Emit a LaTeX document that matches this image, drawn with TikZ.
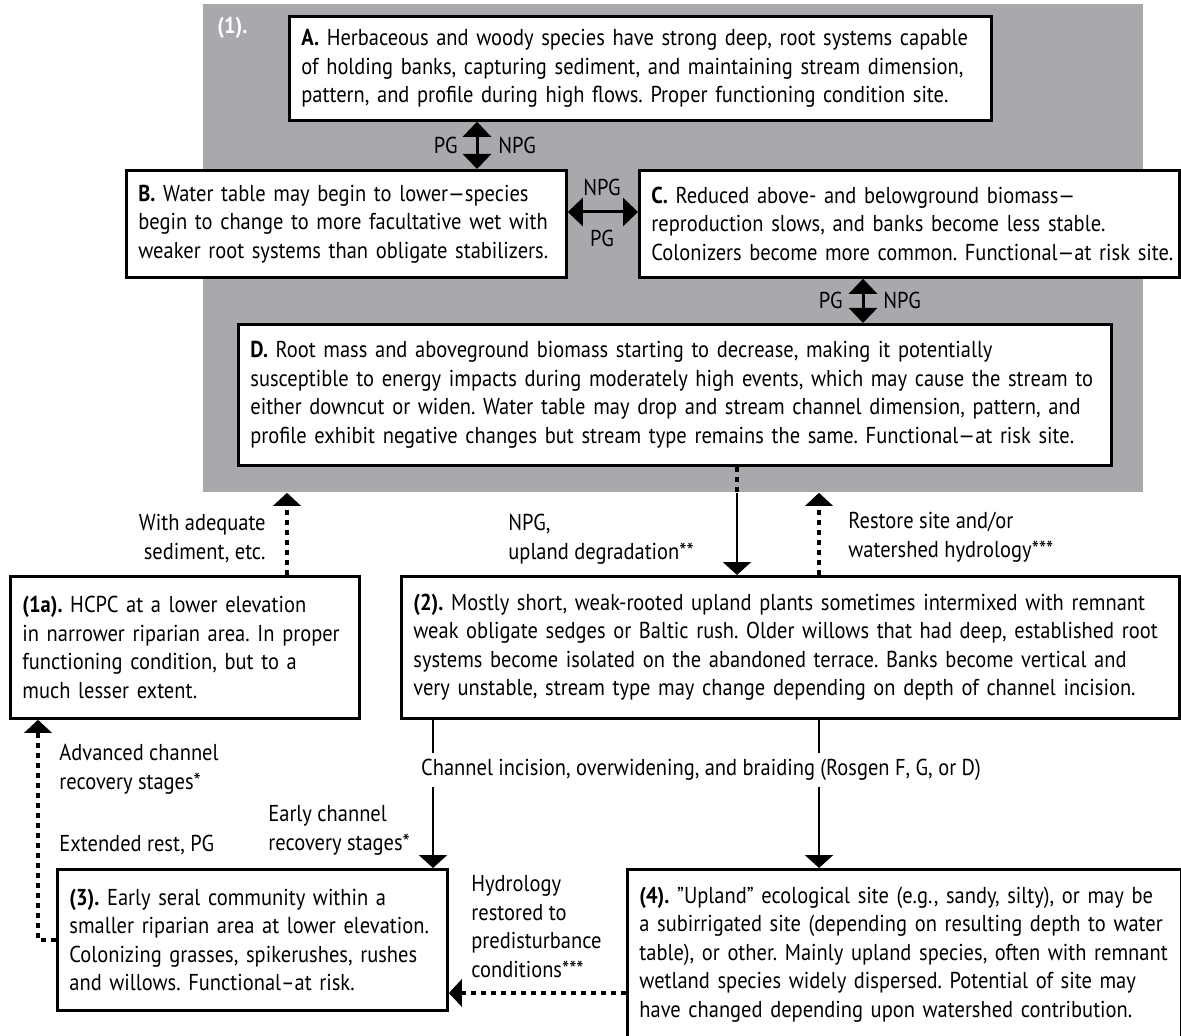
\documentclass[tikz,border=0pt]{standalone}
\usepackage{fontspec}
\setmainfont{PT Sans}[FakeStretch=0.89]
\usetikzlibrary{arrows.meta, positioning}
\definecolor{panelgray}{RGB}{167,169,172}
\newcommand{\stagefont}{\fontsize{11.5pt}{14.25pt}\selectfont}
\frenchspacing
\hyphenpenalty=10000
\exhyphenpenalty=10000

\begin{document}
\begin{tikzpicture}[x=0.5pt, y=-0.5pt,
        stage/.style={rectangle, draw=black, line width=1.4pt, fill=white, anchor=north west, align=left, inner xsep=6pt, inner ysep=0pt, font=\stagefont,
            execute at begin node={\rightskip=-60pt plus 1fil\relax}},
        tag/.style={inner sep=0pt, font=\stagefont},
        note/.style={inner sep=0pt, align=left, font=\stagefont},
        % Arrow styles
        link/.style={line width=1.3pt, -{Triangle[length=6.5pt, width=14pt]}},
        twoway/.style={line width=1.5pt, {Triangle[length=7.5pt, width=14pt]}-{Triangle[length=7.5pt, width=14pt]}},
        dotline/.style={line width=2pt, dash pattern=on 2.5pt off 2.5pt},
        dotlink/.style={dotline, -{Triangle[length=6.5pt, width=13.5pt]}}
    ]
        \useasboundingbox (0,0) rectangle (1181,1036);

        % Gray panel (1)
        \node (panel) [fill=panelgray, anchor=north west, minimum width=470pt, minimum height=244pt, inner sep=0pt] at (203,4) {};
        \node (p1) [tag, anchor=north west, text=white, font=\stagefont\bfseries] at (217,17) {(1).};

        % States inside the panel
        \node (sA) [stage, text width=339pt, minimum height=52pt] at (288,15) {\textbf{A.} Herbaceous and woody species have strong deep, root systems capable\\of holding banks, capturing sediment, and maintaining stream dimension,\\pattern, and profile during high flows. Proper functioning condition site.};
        \node (sB) [stage, text width=208pt, minimum height=53.5pt] at (125,169) {\textbf{B.} Water table may begin to lower—species\\begin to change to more facultative wet with\\weaker root systems than obligate stabilizers.};
        \node (sC) [stage, text width=258pt, minimum height=53.5pt] at (638,169) {\textbf{C.} Reduced above- and belowground biomass—\\reproduction slows, and banks become less stable.\\Colonizers become more common. Functional—at risk site.};
        \node (sD) [stage, text width=424.5pt, minimum height=70.5pt] at (237,323) {\textbf{D.} Root mass and aboveground biomass starting to decrease, making it potentially\\susceptible to energy impacts during moderately high events, which may cause the stream to\\either downcut or widen. Water table may drop and stream channel dimension, pattern, and\\profile exhibit negative changes but stream type remains the same. Functional—at risk site.};

        % States below the panel
        \node (s1a) [stage, text width=162.5pt, minimum height=71pt] at (9,575) {\textbf{(1a).} HCPC at a lower elevation\\in narrower riparian area. In proper\\functioning condition, but to a\\much lesser extent.};
        \node (s2) [stage, text width=377pt, minimum height=71pt] at (400,575) {\textbf{(2).} Mostly short, weak-rooted upland plants sometimes intermixed with remnant\\weak obligate sedges or Baltic rush. Older willows that had deep, established root\\systems become isolated on the abandoned terrace. Banks become vertical and\\very unstable, stream type may change depending on depth of channel incision.};
        \node (s3) [stage, text width=183pt, minimum height=70.5pt] at (56,868) {\textbf{(3).} Early seral community within a\\smaller riparian area at lower elevation.\\Colonizing grasses, spikerushes, rushes\\and willows. Functional–at risk.};
        \node (s4) [stage, text width=265pt, minimum height=85pt] at (626,868) {\textbf{(4).} ”Upland” ecological site (e.g., sandy, silty), or may be\\a subirrigated site (depending on resulting depth to water\\table), or other. Mainly upland species, often with remnant\\wetland species widely dispersed. Potential of site may\\have changed depending upon watershed contribution.};

        % Two-way arrows inside the panel
        \coordinate (cAB) at (477,0);
        \coordinate (cBC) at (0,212);
        \coordinate (cCD) at (863,0);
        \draw[twoway] (sA.south -| cAB) -- (sB.north -| cAB);
        \draw[twoway] (sB.east |- cBC) -- (sC.west |- cBC);
        \draw[twoway] (sC.south -| cCD) -- (sD.north -| cCD);

        \coordinate (mAB) at (477,145);
        \node (pgAB) [tag, left=9.5pt of mAB] {PG};
        \node (npgAB) [tag, right=10.5pt of mAB] {NPG};
        \coordinate (mBC) at (602,212);
        \node (npgBC) [tag, above=8pt of mBC] {NPG};
        \node (pgBC) [tag, below=9pt of mBC] {PG};
        \coordinate (mCD) at (863,300);
        \node (pgCD) [tag, left=10pt of mCD] {PG};
        \node (npgCD) [tag, right=10pt of mCD] {NPG};

        % Transitions out of and back into the panel
        \coordinate (cU) at (287,0);
        \coordinate (cD) at (737,0);
        \coordinate (cR) at (819,0);
        \coordinate (cL) at (433,0);
        \coordinate (cF) at (38,0);
        \coordinate (cH) at (0,993);
        \draw[dotlink] (s1a.north -| cU) -- (panel.south -| cU);
        \draw[dotline] (sD.south -| cD) -- (panel.south -| cD);
        \draw[link] (panel.south -| cD) -- (s2.north -| cD);
        \draw[dotlink] (s2.north -| cR) -- (panel.south -| cR);
        \draw[link] (s2.south -| cL) -- (s3.north -| cL);
        \draw[link] (s2.south -| cR) -- (s4.north -| cR);
        \draw[dotlink] (s4.west |- cH) -- (s3.east |- cH);
        \draw[dotlink] (s3.west) -| (s1a.south -| cF);

        % Transition notes
        \node (nSed) [note, align=right, anchor=north east] at (266,514) {With adequate\\sediment, etc.};
        \node (nNPG) [note, anchor=north west] at (508,514) {NPG,\\upland degradation**};
        \node (nRest) [note, anchor=north west] at (848,512) {Restore site and/or\\watershed hydrology***};
        \node (nInc) [tag, fill=white, inner xsep=2pt, inner ysep=3.25pt] at (701,770) {Channel incision, overwidening, and braiding (Rosgen F, G, or D)};
        \node (nAdv) [note, anchor=north west] at (59,744) {Advanced channel\\recovery stages*};
        \node (nExt) [note, anchor=north west] at (59,835) {Extended rest, PG};
        \node (nEarly) [note, anchor=north west] at (268,805) {Early channel\\recovery stages*};
        \node (nHyd) [note, anchor=north west] at (471,875) {Hydrology\\restored to\\predisturbance\\conditions***};

    \end{tikzpicture}
\end{document}
